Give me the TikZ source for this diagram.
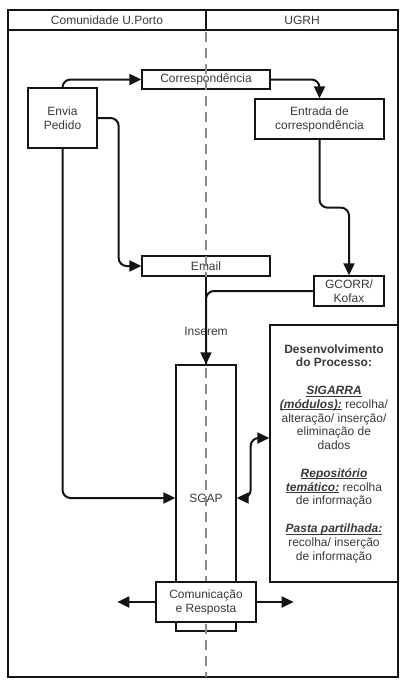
\documentclass[tikz,border=0pt]{standalone}
\usepackage{fontspec}
\setmainfont{Liberation Sans}
\usepackage{xcolor}
\definecolor{flow-line}{HTML}{141414}
\definecolor{flow-text}{HTML}{3A3A3A}
\definecolor{lane-dash}{HTML}{8A8A8A}
\usetikzlibrary{arrows.meta}
\newcommand{\ulpart}[1]{\underline{\smash{\textbf{\textit{#1}}}}}

\begin{document}
\begin{tikzpicture}[x=1pt, y=-1pt,
    procbox/.style={draw=flow-line, line width=1.3pt, fill=white, inner sep=0pt,
                    align=center, text=flow-text, font=\fontsize{12}{13.8}\selectfont},
    flow/.style={draw=flow-line, line width=2pt, rounded corners=8pt,
                 -{Triangle[length=12pt, width=11pt]}},
    lanetext/.style={text=flow-text, font=\fontsize{12}{13.8}\selectfont}]

    \useasboundingbox (0, 0) rectangle (405, 688);

    % Pool and lanes
    \draw[flow-line, line width=1.5pt] (8, 10) rectangle (398, 677);
    \draw[flow-line, line width=1.5pt] (8, 30) -- (398, 30);
    \draw[flow-line, line width=1.5pt] (206, 10) -- (206, 30);
    \node[lanetext] (lanecom) at (107, 20) {Comunidade U.Porto};
    \node[lanetext] (laneugrh) at (302, 20) {UGRH};

    % Boxes
    \node[procbox, minimum width=69pt, minimum height=60pt] (envia) at (62.5, 118) {Envia\\Pedido};
    \node[procbox, minimum width=128pt, minimum height=19pt] (corresp) at (206, 79.5) {Correspondência};
    \node[procbox, minimum width=129pt, minimum height=40pt] (entrada) at (319.5, 119) {Entrada de\\correspondência};
    \node[procbox, minimum width=128pt, minimum height=20pt] (email) at (206, 266) {Email};
    \node[procbox, minimum width=70pt, minimum height=30pt] (gcorr) at (349, 291) {GCORR/\\Kofax};
    \node[procbox, fill=none, minimum width=60pt, minimum height=266pt] (sgap) at (206, 498) {SGAP};
    \node[procbox, minimum width=128pt, minimum height=257pt] (desenv) at (334, 453.5)
        {\textbf{Desenvolvimento}\\\textbf{do Processo:}\\[13.8pt]
         \ulpart{SIGARRA}\\
         \ulpart{(módulos):} recolha/\\
         alteração/ inserção/\\eliminação de\\dados\\[13.8pt]
         \ulpart{Repositório}\\
         \ulpart{temático:} recolha\\
         de informação\\[13.8pt]
         \ulpart{Pasta partilhada:}\\
         recolha/ inserção\\de informação};

    % Lane divider
    \draw[lane-dash, line width=1.5pt, dash pattern=on 10pt off 6pt] (206, 32) -- (206, 677);

    \node[procbox, minimum width=100pt, minimum height=40pt] (comunic) at (206, 602) {Comunicação\\e Resposta};

    % Connectors
    \draw[flow] (envia.north) |- (corresp.west);
    \draw[flow] (corresp.east) -| (entrada.north);
    \draw[flow] (envia.east) -- ++(21, 0) |- (email.west);
    \draw[flow] (entrada.south) -- ++(0, 68) -| (gcorr.north);
    \draw[flow] (email.south) -- node[lanetext, pos=0.63] {Inserem} (sgap.north);
    \draw[flow, -] (gcorr.west) -| (sgap.north);
    \draw[flow] (envia.south) |- (sgap.west);
    \draw[flow, {Triangle[length=12pt, width=11pt]}-{Triangle[length=12pt, width=11pt]}]
        (sgap.east) -- ++(14, 0) |- ([yshift=15.5pt]desenv.west);
    \draw[flow] (comunic.west) -- ++(-38, 0);
    \draw[flow] (comunic.east) -- ++(37, 0);

\end{tikzpicture}
\end{document}
